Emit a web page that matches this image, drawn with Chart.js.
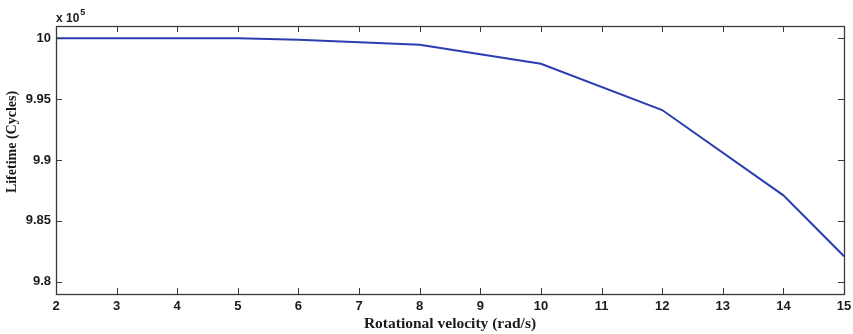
<!DOCTYPE html>
<html>
<head>
<meta charset="utf-8">
<script src="https://cdn.jsdelivr.net/npm/chart.js@4.4.1/dist/chart.umd.min.js"></script>
<style>
  html, body { margin: 0; padding: 0; background: #ffffff; }
  #wrap { width: 853px; height: 334px; position: relative; }
</style>
</head>
<body>
<div id="wrap"><canvas id="c" width="853" height="334"></canvas></div>
<script>
// Data (lifetime in units of 10^5 cycles)
const velocity = [2, 5, 6, 8, 10, 12, 14, 15];
const lifetime = [10.0, 10.0, 9.9988, 9.9946, 9.979, 9.941, 9.871, 9.821];
const xTickValues = [2, 3, 4, 5, 6, 7, 8, 9, 10, 11, 12, 13, 14, 15];
const yTickValues = [9.8, 9.85, 9.9, 9.95, 10];
const yTickLabels = ['9.8', '9.85', '9.9', '9.95', '10'];
const xTitle = 'Rotational velocity (rad/s)';
const yTitle = 'Lifetime (Cycles)';
const exponentBase = 'x 10';
const exponentPower = '5';

const axisColor = '#3a3a3a';
const tickFont = { family: '"Liberation Sans", Arial, sans-serif', size: 13, weight: 'bold' };
const titleFont = { family: '"Liberation Serif", "Times New Roman", serif', size: 15.5, weight: 'bold' };

const boxPlugin = {
  id: 'matlabBox',
  afterDraw(chart) {
    const ctx = chart.ctx;
    const a = chart.chartArea;
    const xs = chart.scales.x, ys = chart.scales.y;
    const tl = 6;
    ctx.save();
    ctx.strokeStyle = axisColor;
    ctx.lineWidth = 1;
    ctx.beginPath();
    xs.ticks.forEach(t => {
      const px = Math.round(xs.getPixelForValue(t.value)) + 0.5;
      if (t.value === xs.min || t.value === xs.max) return;
      ctx.moveTo(px, a.bottom); ctx.lineTo(px, a.bottom - tl);
      ctx.moveTo(px, a.top); ctx.lineTo(px, a.top + tl);
    });
    ys.ticks.forEach(t => {
      const py = Math.round(ys.getPixelForValue(t.value)) + 0.5;
      ctx.moveTo(a.left, py); ctx.lineTo(a.left + tl, py);
      ctx.moveTo(a.right, py); ctx.lineTo(a.right - tl, py);
    });
    ctx.stroke();
    ctx.lineWidth = 1.3;
    ctx.strokeRect(Math.round(a.left) + 0.5, Math.round(a.top) + 0.5,
                   Math.round(a.right - a.left), Math.round(a.bottom - a.top));
    // exponent label
    ctx.fillStyle = '#1a1a1a';
    ctx.font = 'bold 12px "Liberation Sans", Arial, sans-serif';
    ctx.textBaseline = 'alphabetic';
    ctx.textAlign = 'left';
    ctx.fillText(exponentBase, a.left, a.top - 4);
    const w = ctx.measureText(exponentBase).width;
    ctx.font = 'bold 9px "Liberation Sans", Arial, sans-serif';
    ctx.fillText(exponentPower, a.left + w + 1, a.top - 11);
    // y axis title (MATLAB places it slightly above centre)
    ctx.translate(12, 142);
    ctx.rotate(-Math.PI / 2);
    ctx.font = 'bold 14px "Liberation Serif", "Times New Roman", serif';
    ctx.textAlign = 'center';
    ctx.textBaseline = 'middle';
    ctx.fillText(yTitle, 0, 0);
    ctx.restore();
  }
};

new Chart(document.getElementById('c'), {
  type: 'line',
  data: {
    datasets: [{
      data: velocity.map((v, i) => ({ x: v, y: lifetime[i] })),
      borderColor: '#2b3db0',
      borderWidth: 2,
      pointRadius: 0,
      tension: 0,
      fill: false
    }]
  },
  options: {
    responsive: false,
    animation: false,
    layout: { padding: { top: 26, right: 9, left: 0, bottom: 0 } },
    plugins: { legend: { display: false }, tooltip: { enabled: false } },
    scales: {
      x: {
        type: 'linear',
        min: 2, max: 15,
        afterBuildTicks(s) { s.ticks = xTickValues.map(v => ({ value: v })); },
        afterFit(s) { s.height = 40; s.paddingRight = 0; },
        grid: { display: false, drawTicks: false },
        border: { display: false },
        ticks: {
          padding: 5, color: '#1a1a1a', font: tickFont, maxRotation: 0, autoSkip: false,
          callback: v => String(v)
        },
        title: { display: true, text: xTitle, color: '#1a1a1a', font: titleFont, padding: { top: 0, bottom: 1 } }
      },
      y: {
        type: 'linear',
        min: 9.79, max: 10.01,
        afterBuildTicks(s) { s.ticks = yTickValues.map(v => ({ value: v })); },
        afterFit(s) { s.width = 56; },
        grid: { display: false, drawTicks: false },
        border: { display: false },
        ticks: {
          padding: 5, color: '#1a1a1a', font: tickFont, autoSkip: false,
          callback: (v, i) => yTickLabels[i]
        },
        title: { display: false }
      }
    }
  },
  plugins: [boxPlugin]
});
</script>
</body>
</html>
